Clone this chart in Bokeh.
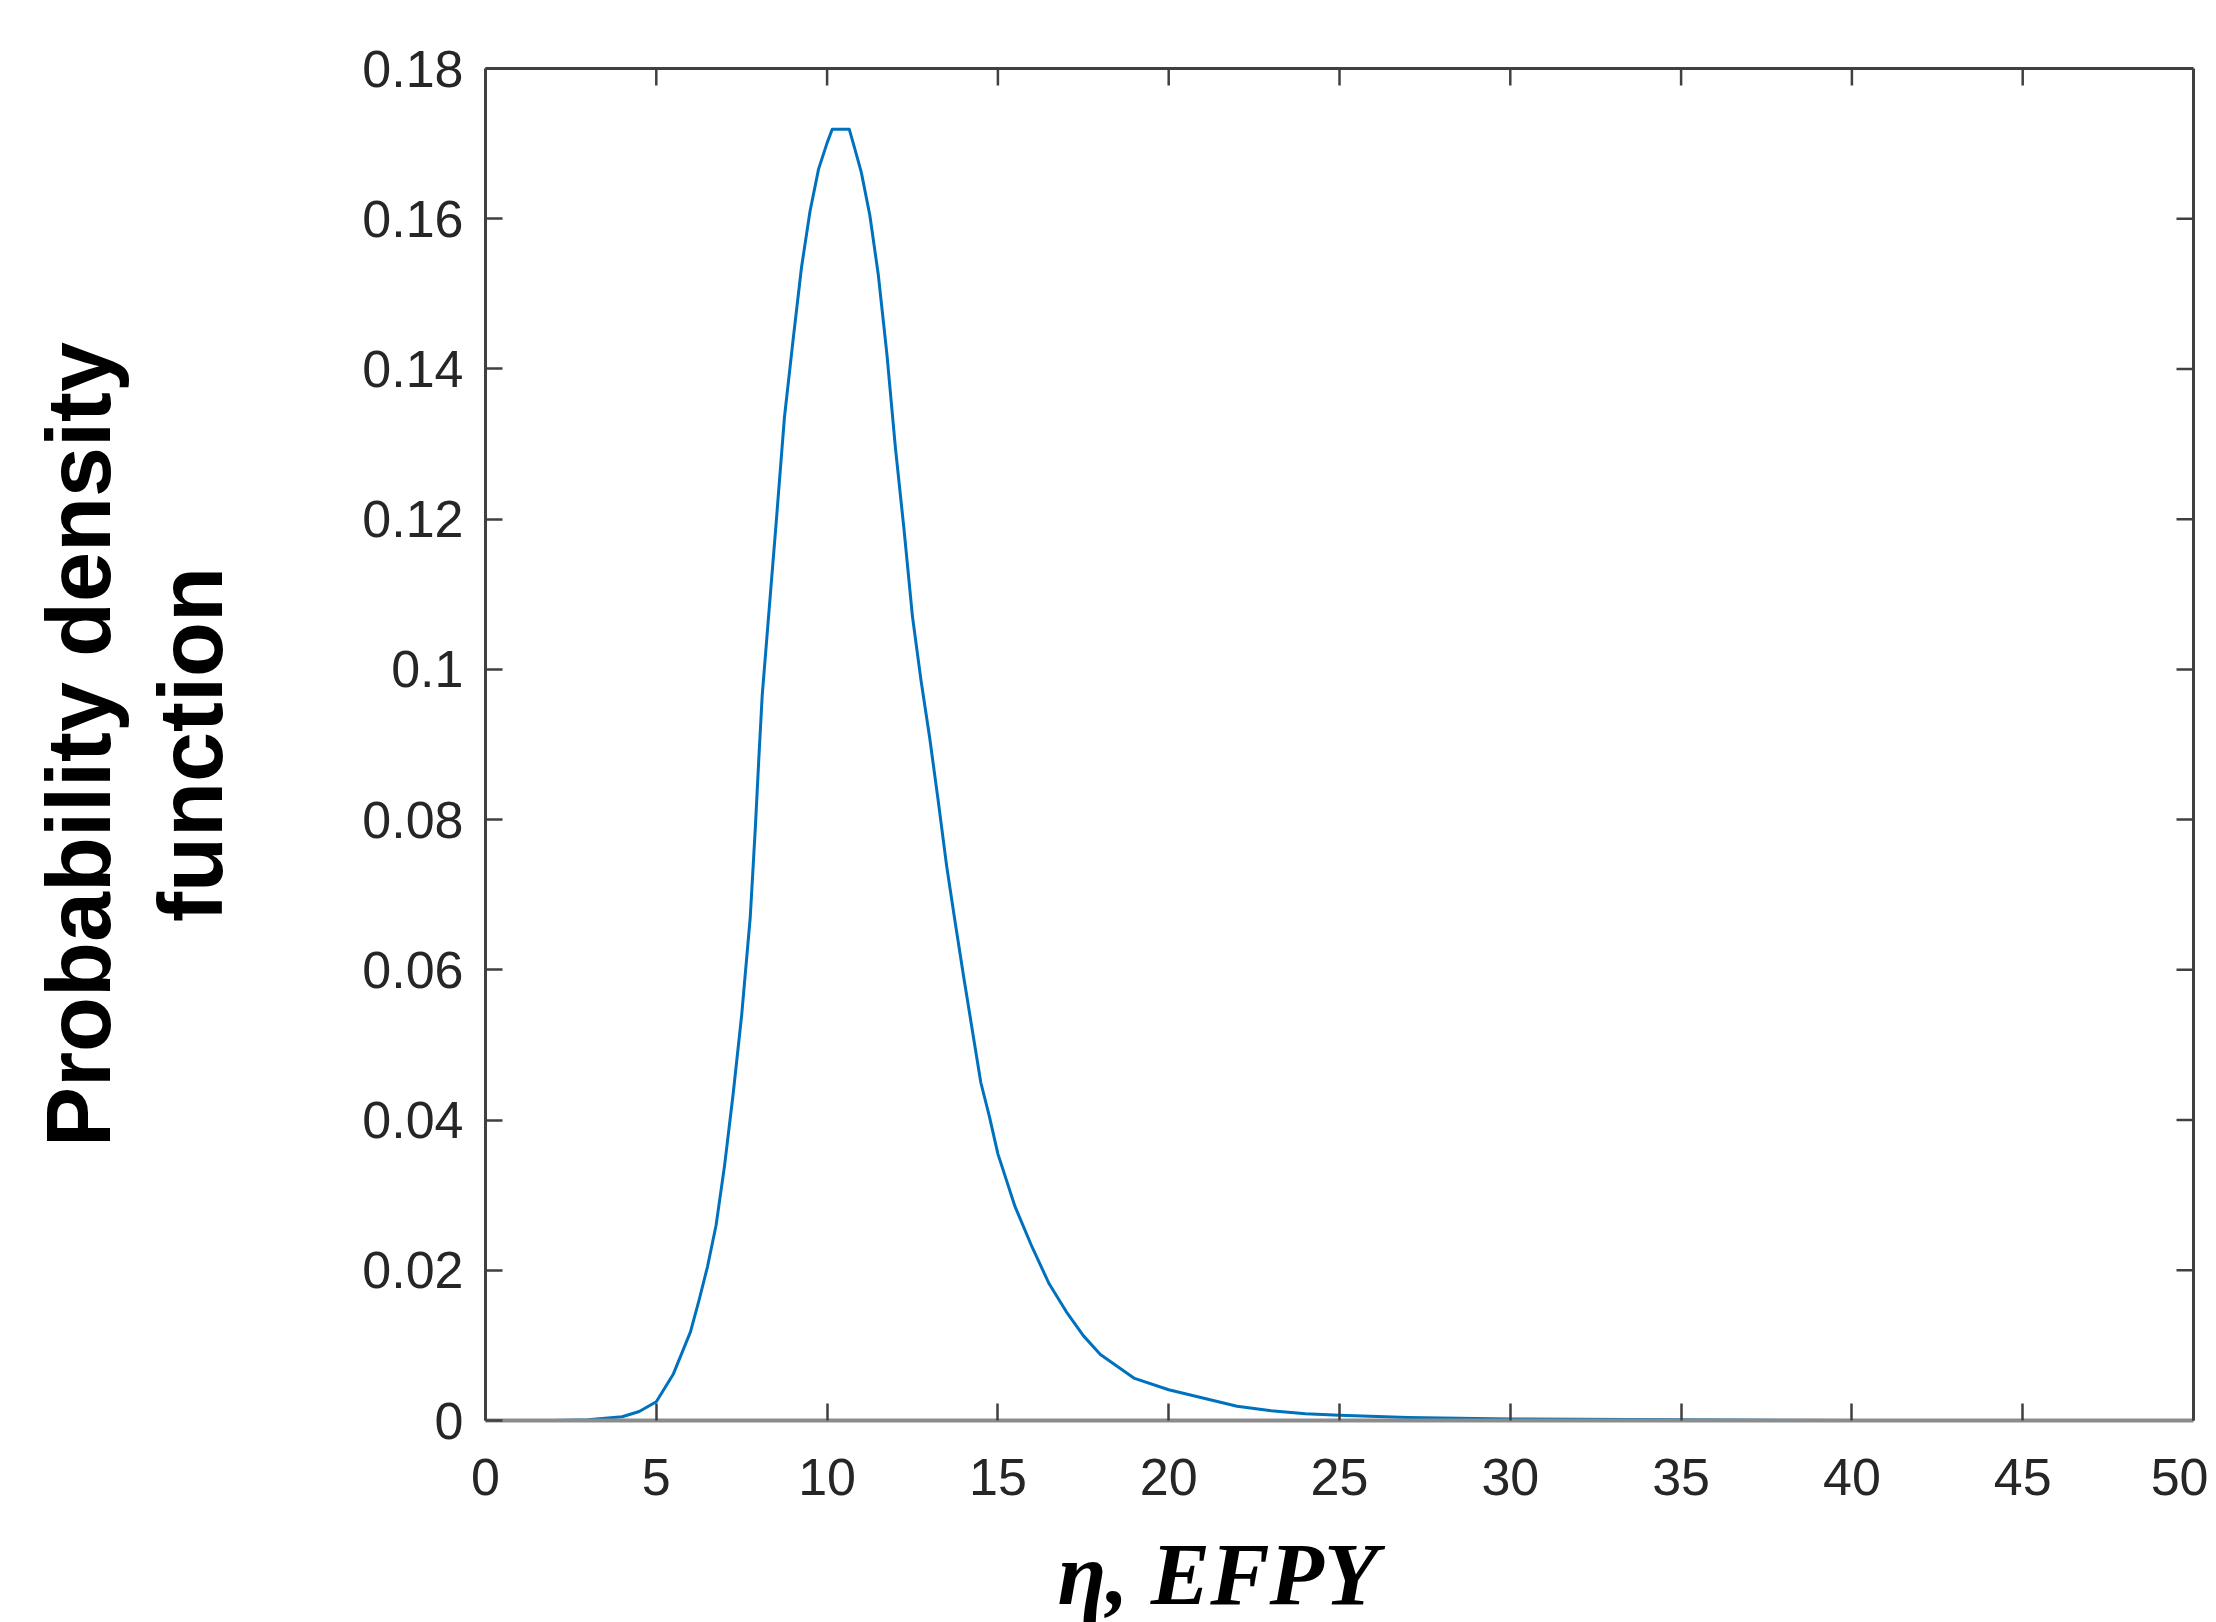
from bokeh.plotting import figure
from bokeh.models import Range1d, LinearAxis, FixedTicker, Title, ColumnDataSource
from bokeh.embed import file_html
from bokeh.resources import INLINE

# ---- data ----
eta = [2.0, 3.0, 3.5, 4.0, 4.5, 5.0, 5.5, 6.0, 6.25, 6.5, 6.75, 7.0, 7.25, 7.5,
       7.75, 7.9, 8.0, 8.1, 8.25, 8.5, 8.75, 9.0, 9.25, 9.5, 9.75, 10.0, 10.15,
       10.65, 10.8, 11.0, 11.25, 11.5, 11.75, 12.0, 12.25, 12.5, 12.75, 13.0,
       13.25, 13.5, 13.75, 14.0, 14.25, 14.5, 14.75, 15.0, 15.5, 16.0, 16.5,
       17.0, 17.5, 18.0, 19.0, 20.0, 21.0, 22.0, 23.0, 24.0, 25.0, 27.0, 30.0,
       35.0, 40.0, 45.0, 49.0]
pdf = [0.0, 0.0001, 0.0003, 0.0005, 0.0012, 0.0025, 0.0062, 0.0118, 0.0160,
       0.0205, 0.0260, 0.0340, 0.0435, 0.0540, 0.0670, 0.0790, 0.0880, 0.0965,
       0.1050, 0.1190, 0.1335, 0.1437, 0.1535, 0.1610, 0.1666, 0.1701, 0.1719,
       0.1719, 0.1695, 0.1662, 0.1605, 0.1525, 0.1420, 0.1295, 0.1187, 0.1070,
       0.0985, 0.0910, 0.0826, 0.0738, 0.0663, 0.0590, 0.0520, 0.0450, 0.0405,
       0.0355, 0.0285, 0.0231, 0.0182, 0.0145, 0.0113, 0.0088, 0.0056, 0.0041,
       0.0030, 0.0019, 0.0013, 0.0009, 0.0007, 0.0004, 0.0002, 0.0001, 0.0,
       0.0, 0.0]

x_ticks = [0, 5, 10, 15, 20, 25, 30, 35, 40, 45, 50]
y_ticks = [0, 0.02, 0.04, 0.06, 0.08, 0.1, 0.12, 0.14, 0.16, 0.18]
y_tick_labels = ["0", "0.02", "0.04", "0.06", "0.08", "0.1", "0.12", "0.14", "0.16", "0.18"]

y_label = "Probability density\nfunction"
x_label = "\u03b7, EFPY"

# ---- figure ----
p = figure(output_backend="svg", toolbar_location=None,
           frame_width=1708, frame_height=1352,
           min_border_left=485, min_border_right=15,
           min_border_top=68, min_border_bottom=202,
           x_range=Range1d(0, 50), y_range=Range1d(0, 0.18),
           background_fill_color="white", border_fill_color="white")
p.outline_line_color = None
p.xgrid.visible = False
p.ygrid.visible = False

src = ColumnDataSource(dict(x=eta, y=pdf))
p.line("x", "y", source=src, line_color="#0072BD", line_width=3,
       line_join="round")

TICK_COLOR = "#404040"
LABEL_FONT = "Liberation Sans"

def style_axis(ax, color, width):
    ax.axis_line_color = color
    ax.axis_line_width = width
    ax.major_tick_line_color = TICK_COLOR
    ax.major_tick_line_width = 2.5
    ax.major_tick_in = 17
    ax.major_tick_out = 0
    ax.minor_tick_line_color = None
    ax.major_label_text_font = LABEL_FONT
    ax.major_label_text_font_size = "52px"
    ax.major_label_text_color = "#262626"

# bottom axis
xa = p.xaxis[0]
xa.ticker = FixedTicker(ticks=x_ticks)
style_axis(xa, "#8c8c8c", 4)
xa.major_label_standoff = 38

# left axis with two-line title
ya = p.yaxis[0]
ya.ticker = FixedTicker(ticks=y_ticks)
ya.major_label_overrides = {t: l for t, l in zip(y_ticks, y_tick_labels)}
style_axis(ya, "#404040", 3)
ya.major_label_standoff = 22
ya.axis_label = y_label
ya.axis_label_text_font = LABEL_FONT
ya.axis_label_text_font_style = "bold"
ya.axis_label_text_font_size = "90px"
ya.axis_label_text_color = "black"
ya.axis_label_text_align = "center"
ya.axis_label_text_line_height = 1.12
ya.axis_label_standoff = 118

# mirrored box axes (lines only)
top = LinearAxis(ticker=FixedTicker(ticks=[]))
style_axis(top, "#404040", 3)
top.major_label_standoff = 0
p.add_layout(top, "above")

right = LinearAxis(ticker=FixedTicker(ticks=[]))
style_axis(right, "#404040", 3)
right.major_label_standoff = 0
p.add_layout(right, "right")

# mirrored ticks derived from the tick arrays
tick_dy = 17 * 0.18 / 1352
tick_dx = 17 * 50 / 1708
p.segment(x0=x_ticks, y0=[0.18] * len(x_ticks), x1=x_ticks,
          y1=[0.18 - tick_dy] * len(x_ticks), line_color=TICK_COLOR, line_width=2.5)
p.segment(x0=[50] * len(y_ticks), y0=y_ticks, x1=[50 - tick_dx] * len(y_ticks),
          y1=y_ticks, line_color=TICK_COLOR, line_width=2.5)

# x-axis title, placed left of centre as in the reference
p.add_layout(Title(text=x_label, align="left", offset=572, standoff=50,
                   text_font="Liberation Serif", text_font_style="bold italic",
                   text_font_size="89px", text_color="black"), "below")

open("out.html", "w").write(file_html(p, INLINE))
